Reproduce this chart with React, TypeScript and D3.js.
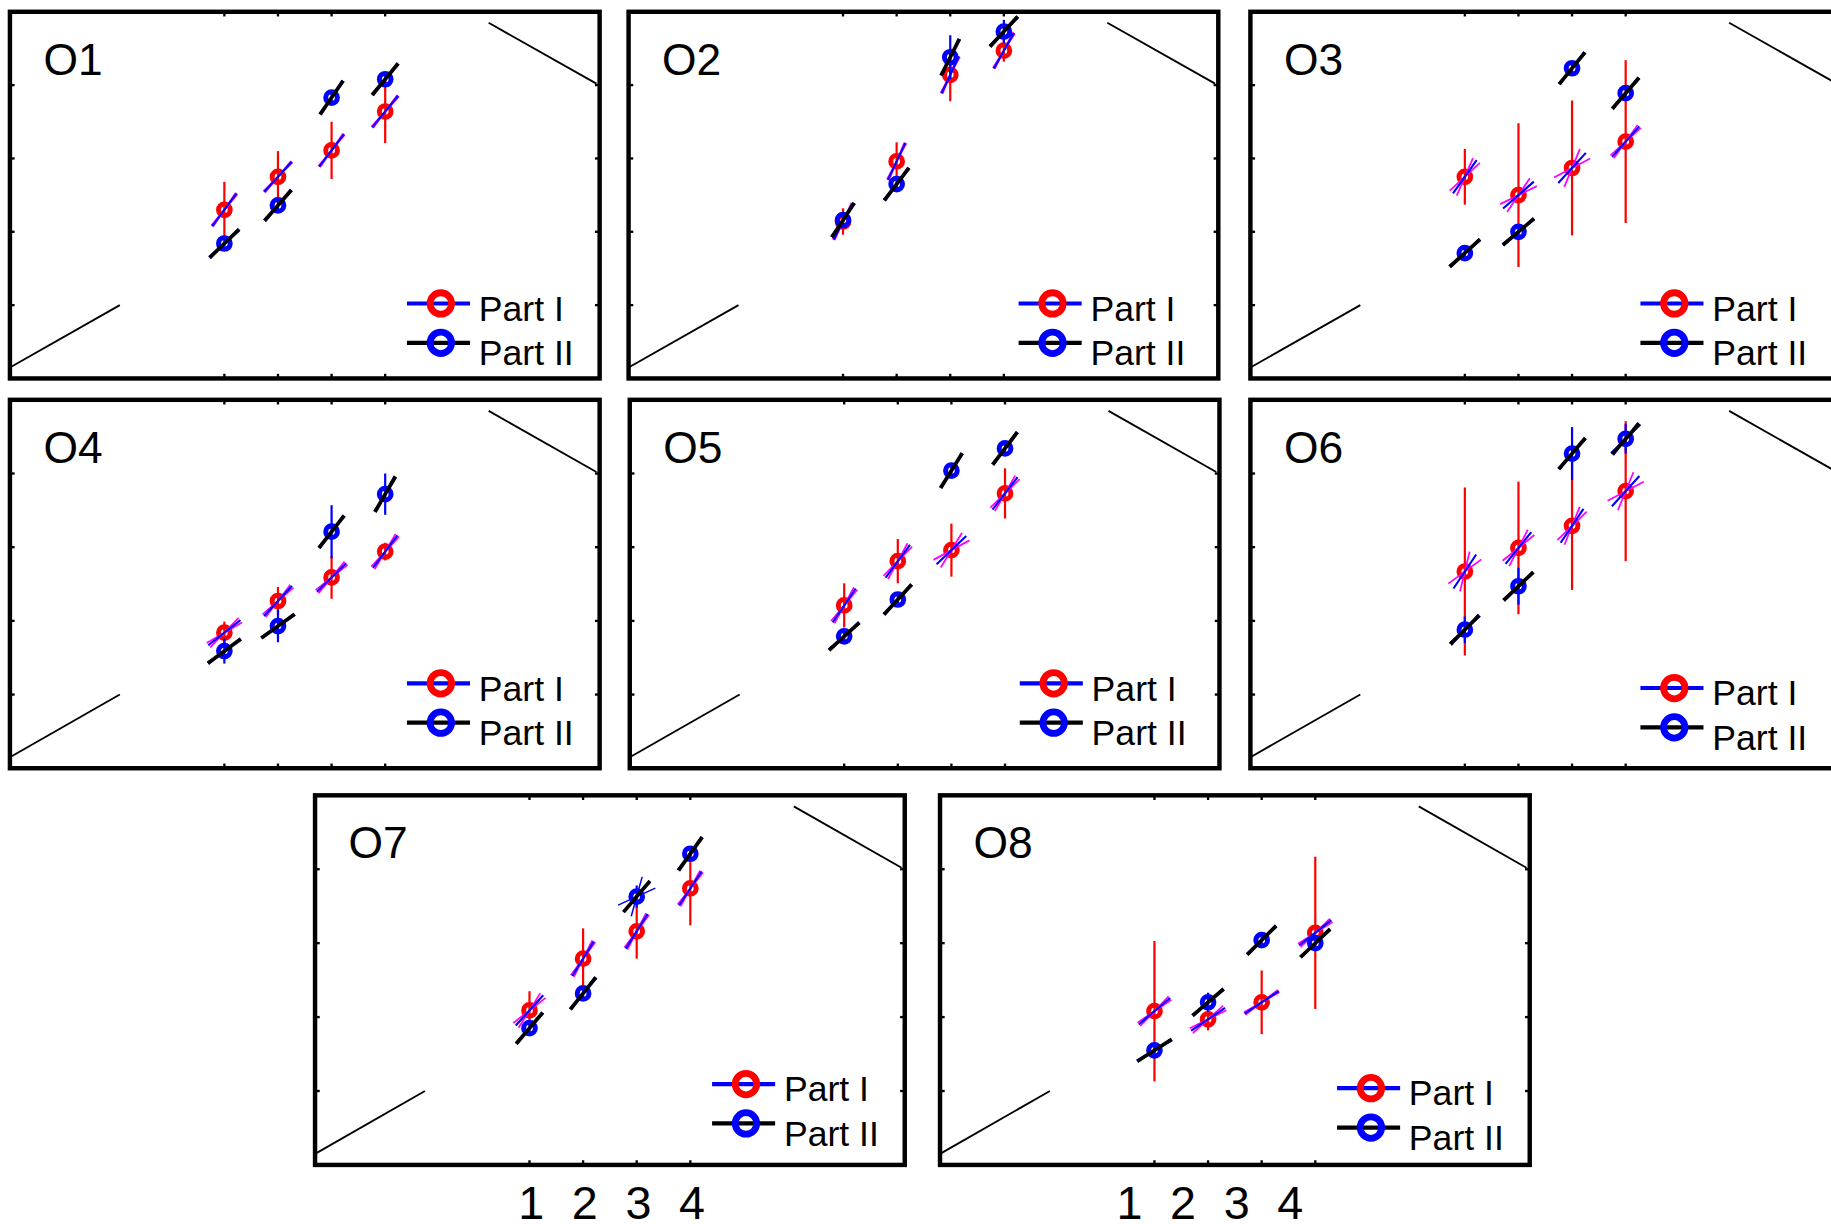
import React from "react";
import * as d3 from "d3";

// ---------- data ----------
const panelNames = ["O1", "O2", "O3", "O4", "O5", "O6", "O7", "O8"];
const xCategories = [1, 2, 3, 4];
const yTickValues = [1, 2, 3, 4];
const xTickLabels = ["1", "2", "3", "4"];
const seriesNames = ["Part I", "Part II"];

// Part I (red markers)
const partIMeans = [
  [2.3, 2.75, 3.11, 3.64],
  [2.14, 2.96, 4.14, 4.47],
  [2.75, 2.5, 2.87, 3.23],
  [1.84, 2.27, 2.59, 2.94],
  [2.21, 2.81, 2.96, 3.73],
  [2.67, 2.99, 3.29, 3.76],
  [2.09, 2.79, 3.16, 3.74],
  [2.08, 1.97, 2.2, 3.14],
];
const partIErr = [
  [0.38, 0.35, 0.39, 0.43],
  [0.18, 0.26, 0.36, 0.15],
  [0.38, 0.98, 0.92, 1.11],
  [0.15, 0.19, 0.29, 0.12],
  [0.3, 0.3, 0.36, 0.34],
  [1.14, 0.9, 0.87, 0.95],
  [0.26, 0.41, 0.37, 0.5],
  [0.95, 0.15, 0.43, 1.03],
];
const partISlope = [
  [0.98, 0.8, 0.96, 0.89],
  [1.41, 1.55, 1.56, 1.29],
  [1.03, 0.64, 0.8, 0.82],
  [0.57, 0.78, 0.71, 0.97],
  [1.07, 0.98, 0.69, 0.94],
  [1.09, 0.9, 1.08, 0.8],
  [0.8, 1.17, 1.15, 1.09],
  [0.61, 0.49, 0.48, 0.57],
];
const partISpread = [
  [3, 3, 3, 3],
  [3, 3, 3, 3],
  [12, 15, 20, 6],
  [8, 6, 6, 6],
  [6, 8, 15, 8],
  [20, 12, 12, 20],
  [10, 5, 5, 5],
  [6, 8, 4, 6],
];

// Part II (blue markers)
const partIIMeans = [
  [1.84, 2.36, 3.83, 4.08],
  [2.16, 2.65, 4.38, 4.73],
  [1.71, 2.0, 4.23, 3.89],
  [1.59, 1.93, 3.21, 3.72],
  [1.79, 2.29, 4.04, 4.34],
  [1.88, 2.47, 4.27, 4.47],
  [1.85, 2.32, 3.63, 4.21],
  [1.55, 2.2, 3.04, 3.0],
];
const partIIErr = [
  [0.1, 0.1, 0.1, 0.1],
  [0.1, 0.1, 0.3, 0.16],
  [0.1, 0.1, 0.1, 0.1],
  [0.17, 0.22, 0.36, 0.28],
  [0.1, 0.1, 0.1, 0.1],
  [0.18, 0.25, 0.36, 0.2],
  [0.1, 0.1, 0.15, 0.1],
  [0.1, 0.13, 0.1, 0.1],
];
const partIISlope = [
  [0.7, 0.84, 1.07, 0.89],
  [1.12, 0.97, 1.46, 0.79],
  [0.66, 0.62, 0.9, 0.85],
  [0.54, 0.52, 0.93, 1.26],
  [0.66, 0.79, 1.17, 0.96],
  [0.73, 0.69, 0.85, 0.82],
  [0.85, 0.91, 0.85, 1.02],
  [0.46, 0.62, 0.72, 0.69],
];
const partIISpread = [
  [3, 3, 3, 3],
  [3, 3, 3, 3],
  [3, 3, 3, 3],
  [3, 3, 3, 3],
  [3, 3, 3, 3],
  [4, 3, 3, 5],
  [3, 3, 25, 3],
  [3, 3, 3, 3],
];

// thin guide segments drawn in every panel (data units)
const guideLow = [
  [-3, 0.15],
  [-0.95, 1.0],
];
const guideHigh = [
  [5.93, 4.85],
  [7.94, 4.02],
];

// ---------- layout (display units, scaled by viewBox) ----------
const VW = 1568;
const VH = 1048;
const PW = 505;
const panelLayout = [
  { left: 8.5, top: 10, h: 314, legDx: 0, legDy: 0, labels: null as null | number },
  { left: 538.3, top: 10, h: 314, legDx: -6, legDy: 0, labels: null },
  { left: 1070.8, top: 10, h: 314, legDx: -6, legDy: 0, labels: null },
  { left: 8.5, top: 342.3, h: 315.5, legDx: 0, legDy: -7, labels: null },
  { left: 539.3, top: 342.3, h: 315.5, legDx: -6, legDy: -7, labels: null },
  { left: 1070.8, top: 342.3, h: 315.5, legDx: -6, legDy: -3, labels: null },
  { left: 269.8, top: 681, h: 316.5, legDx: 0, legDy: -2.5, labels: 0 },
  { left: 805, top: 681, h: 316.5, legDx: 0, legDy: 1, labels: -0.5 },
];

const RED = "#ff0000";
const BLUE = "#0000ff";
const MAGENTA = "#ff00ff";
const BLACK = "#000000";
const FONT = "'Liberation Sans', Arial, Helvetica, sans-serif";
const SEG_LEN = 35;

function segment(cx: number, cy: number, slope: number, ux: number, uy: number, deltaDeg: number, len: number) {
  const theta = Math.atan2(slope * uy, ux) + (deltaDeg * Math.PI) / 180;
  const dx = (len / 2) * Math.cos(theta);
  const dy = (len / 2) * Math.sin(theta);
  return { x1: cx - dx, y1: cy + dy, x2: cx + dx, y2: cy - dy };
}

function Series({
  x, y, means, errs, slopes, spreads, markerColor, barColor, mainColor, ciColor, mainWidth, ciWidth,
}: any) {
  const ux = x(1) - x(0);
  const uy = y(0) - y(1);
  return (
    <g>
      {xCategories.map((c, i) => {
        const cx = x(c);
        const cy = y(means[i]);
        const main = segment(cx, cy, slopes[i], ux, uy, 0, SEG_LEN);
        const ciA = segment(cx, cy, slopes[i], ux, uy, spreads[i], SEG_LEN);
        const ciB = segment(cx, cy, slopes[i], ux, uy, -spreads[i], SEG_LEN);
        return (
          <g key={i}>
            <line x1={cx} x2={cx} y1={y(means[i] + errs[i])} y2={y(means[i] - errs[i])} stroke={barColor} strokeWidth={1.9} />
            <circle cx={cx} cy={cy} r={5} fill="none" stroke={markerColor} strokeWidth={4.3} />
            <line {...ciA} stroke={ciColor} strokeWidth={ciWidth} />
            <line {...ciB} stroke={ciColor} strokeWidth={ciWidth} />
            <line {...main} stroke={mainColor} strokeWidth={mainWidth} />
          </g>
        );
      })}
    </g>
  );
}

function Panel({ idx }: { idx: number }) {
  const L = panelLayout[idx];
  const x = d3.scaleLinear().domain([-3, 8]).range([L.left, L.left + PW]);
  const y = d3.scaleLinear().domain([0, 5]).range([L.top + L.h, L.top]);
  const line = d3
    .line<number[]>()
    .x((d) => x(d[0]))
    .y((d) => y(d[1]));
  const tickLen = 4;
  const legX = L.left + 340 + L.legDx;
  const legY1 = L.top + 249.8 + L.legDy;
  const legY2 = L.top + 283.5 + L.legDy;
  return (
    <g>
      <path d={line(guideLow) || ""} fill="none" stroke={BLACK} strokeWidth={1.6} />
      <path d={line(guideHigh) || ""} fill="none" stroke={BLACK} strokeWidth={1.6} />

      {/* ticks */}
      {xCategories.map((c) => (
        <g key={"xt" + c}>
          <line x1={x(c)} x2={x(c)} y1={L.top} y2={L.top + tickLen} stroke={BLACK} strokeWidth={2} />
          <line x1={x(c)} x2={x(c)} y1={L.top + L.h} y2={L.top + L.h - tickLen} stroke={BLACK} strokeWidth={2} />
        </g>
      ))}
      {yTickValues.map((v) => (
        <g key={"yt" + v}>
          <line x1={L.left} x2={L.left + tickLen} y1={y(v)} y2={y(v)} stroke={BLACK} strokeWidth={2} />
          <line x1={L.left + PW} x2={L.left + PW - tickLen} y1={y(v)} y2={y(v)} stroke={BLACK} strokeWidth={2} />
        </g>
      ))}

      <Series
        x={x}
        y={y}
        means={partIMeans[idx]}
        errs={partIErr[idx]}
        slopes={partISlope[idx]}
        spreads={partISpread[idx]}
        markerColor={RED}
        barColor={RED}
        mainColor={BLUE}
        ciColor={MAGENTA}
        mainWidth={1.8}
        ciWidth={1.5}
      />
      <Series
        x={x}
        y={y}
        means={partIIMeans[idx]}
        errs={partIIErr[idx]}
        slopes={partIISlope[idx]}
        spreads={partIISpread[idx]}
        markerColor={BLUE}
        barColor={BLUE}
        mainColor={BLACK}
        ciColor={BLUE}
        mainWidth={3.2}
        ciWidth={1.3}
      />

      <rect x={L.left} y={L.top} width={PW} height={L.h} fill="none" stroke={BLACK} strokeWidth={3.8} />

      <text x={L.left + 28.7} y={L.top + 54} fontFamily={FONT} fontSize={38} fill={BLACK}>
        {panelNames[idx]}
      </text>

      {/* legend */}
      <line x1={legX} x2={legX + 54} y1={legY1} y2={legY1} stroke={BLUE} strokeWidth={3.6} />
      <circle cx={legX + 29} cy={legY1} r={9.2} fill="none" stroke={RED} strokeWidth={5.8} />
      <text x={legX + 61.5} y={legY1 + 14.8} fontFamily={FONT} fontSize={30.5} fill={BLACK}>
        {seriesNames[0]}
      </text>
      <line x1={legX} x2={legX + 54} y1={legY2} y2={legY2} stroke={BLACK} strokeWidth={3.6} />
      <circle cx={legX + 29} cy={legY2} r={9.2} fill="none" stroke={BLUE} strokeWidth={5.8} />
      <text x={legX + 61.5} y={legY2 + 19.1} fontFamily={FONT} fontSize={30.5} fill={BLACK}>
        {seriesNames[1]}
      </text>

      {L.labels !== null &&
        xCategories.map((c, i) => (
          <text
            key={"lbl" + c}
            x={x(c + (L.labels as number)) + 1.5}
            y={1043.6}
            textAnchor="middle"
            fontFamily={FONT}
            fontSize={40}
            fill={BLACK}
          >
            {xTickLabels[i]}
          </text>
        ))}
    </g>
  );
}

export default function App() {
  return (
    <svg
      width={1831}
      height={1224}
      viewBox={`0 0 ${VW} ${VH}`}
      style={{ position: "absolute", left: 0, top: 0, display: "block", background: "#fff" }}
    >
      <rect x={0} y={0} width={VW} height={VH} fill="#fff" />
      {panelNames.map((n, i) => (
        <Panel key={n} idx={i} />
      ))}
    </svg>
  );
}
